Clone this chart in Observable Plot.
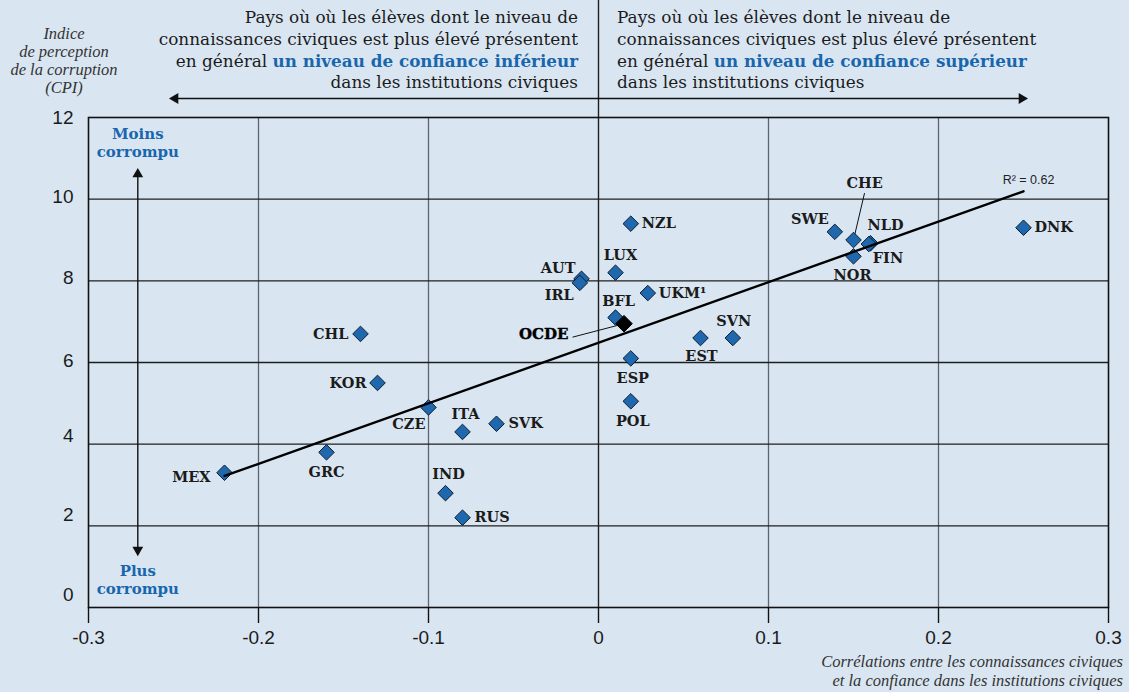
<!DOCTYPE html>
<html>
<head>
<meta charset="utf-8">
<script src="https://cdn.jsdelivr.net/npm/d3@7"></script>
<script src="https://cdn.jsdelivr.net/npm/@observablehq/plot@0.6"></script>
<style>
  html, body { margin: 0; padding: 0; background: #d9e6f2; }
  #chart svg { display: block; }
</style>
</head>
<body>
<div id="chart"></div>
<script>
// ---------------- DATA ----------------
const countries = ["MEX","GRC","CHL","KOR","CZE","ITA","SVK","IND","RUS","AUT","IRL","LUX","NZL","UKM¹","BFL","ESP","POL","EST","SVN","SWE","CHE","NLD","FIN","NOR","DNK"];
const civicTrustCorr = [-0.22,-0.16,-0.14,-0.13,-0.10,-0.08,-0.06,-0.09,-0.08,-0.01,-0.011,0.01,0.019,0.029,0.01,0.019,0.019,0.06,0.079,0.139,0.15,0.16,0.159,0.15,0.25];
const cpiValues = [3.3,3.8,6.7,5.5,4.9,4.3,4.5,2.8,2.2,8.05,7.95,8.2,9.4,7.7,7.1,6.1,5.05,6.6,6.6,9.2,9.0,8.92,8.9,8.6,9.3];
const oecdName = "OCDE";
const oecdCorr = 0.015;
const oecdCpi = 6.95;
const xTicks = [-0.3,-0.2,-0.1,0,0.1,0.2,0.3];
const yTicks = [0,2,4,6,8,10,12];
const r2Label = "R² = 0.62";

const data = countries.map((c, i) => ({name: c, x: civicTrustCorr[i], y: cpiValues[i]}));
const oecd = [{name: oecdName, x: oecdCorr, y: oecdCpi}];

// ---------------- STYLE / LABEL PLACEMENT ----------------
const blue = "#1a66ad";
const bg = "#d9e6f2";
const serif = "'DejaVu Serif', 'Liberation Serif', serif";
const serifIt = "'Liberation Serif', serif";
const sans = "'Liberation Sans', Arial, sans-serif";
const W = 1129, H = 692, mL = 88, mR = 21, mT = 117, mB = 85;
const yCanvasTop = 12 * (H - mB) / (H - mB - mT);
const yTickNudge = {0: -13, 2: -11, 4: -8, 6: -2, 8: -3, 10: -2, 12: 0};

const labelPos = {
  "MEX": {a: "end", dx: -14, dy: 5},
  "GRC": {a: "middle", dx: 0, dy: 20},
  "CHL": {a: "end", dx: -12, dy: 0},
  "KOR": {a: "end", dx: -11, dy: 0},
  "CZE": {a: "end", dx: -3, dy: 17},
  "ITA": {a: "middle", dx: 3, dy: -18},
  "SVK": {a: "start", dx: 12, dy: 0},
  "IND": {a: "middle", dx: 3, dy: -19},
  "RUS": {a: "start", dx: 12, dy: 0},
  "AUT": {a: "end", dx: -6, dy: -10},
  "IRL": {a: "end", dx: -6, dy: 12},
  "LUX": {a: "middle", dx: 5, dy: -17},
  "NZL": {a: "start", dx: 11, dy: 0},
  "UKM¹": {a: "start", dx: 11, dy: 0},
  "BFL": {a: "middle", dx: 3, dy: -16},
  "ESP": {a: "middle", dx: 2, dy: 20},
  "POL": {a: "middle", dx: 2, dy: 20},
  "EST": {a: "middle", dx: 1, dy: 18},
  "SVN": {a: "middle", dx: 1, dy: -17},
  "SWE": {a: "end", dx: -6, dy: -12},
  "NLD": {a: "start", dx: -3, dy: -18},
  "FIN": {a: "start", dx: 4, dy: 14},
  "NOR": {a: "middle", dx: -1, dy: 19},
  "DNK": {a: "start", dx: 11, dy: 0}
};
const cheLeader = {x2: 0.1565, y2: 10.15};
const oecdLeader = {x2: -0.0153, y2: 6.62};

const mx = d3.mean(civicTrustCorr), my = d3.mean(cpiValues);
const slope = d3.sum(civicTrustCorr, (x, i) => (x - mx) * (cpiValues[i] - my)) / d3.sum(civicTrustCorr, x => (x - mx) ** 2);
const intercept = my - slope * mx;
const xMax = d3.max(civicTrustCorr);

const fmt = d => { const v = +d.toFixed(1); return v === 0 ? "0" : String(v); };

const labelFont = {fontFamily: serif, fontWeight: "bold", fontSize: 14.5, fill: "#1b1b1b"};
const labelMarks = data.filter(d => labelPos[d.name]).map(d => {
  const p = labelPos[d.name];
  return Plot.text([d], {x: "x", y: "y", text: "name", textAnchor: p.a, dx: p.dx, dy: p.dy, ...labelFont});
});
const yAxisMarks = yTicks.map(t => Plot.axisY({ticks: [t], tickSize: 0, tickPadding: 15, dy: yTickNudge[t] || 0,
  tickFormat: d => String(d), fontSize: 19, fontFamily: sans, label: null}));
const blueFont = {fontSize: 15, fontWeight: "bold", fontFamily: serif, fill: blue};

const chart = Plot.plot({
  width: W, height: H,
  marginLeft: mL, marginRight: mR, marginTop: mT, marginBottom: mB,
  style: {background: bg, color: "#1b1b1b", fontFamily: sans, overflow: "visible"},
  x: {domain: [-0.3, 0.3], label: null},
  y: {domain: [0, 12], label: null},
  marks: [
    Plot.ruleX(xTicks.filter(t => t !== 0 && Math.abs(t) < 0.3), {stroke: "#5c6570", strokeWidth: 1.3}),
    Plot.ruleY(yTicks.filter(t => t > 0 && t < 12), {stroke: "#1e1e1e", strokeWidth: 1.3}),
    Plot.ruleX([0], {y1: 0, y2: yCanvasTop, stroke: "#1e1e1e", strokeWidth: 1.4}),
    Plot.frame({stroke: "#111", strokeWidth: 1.6}),
    Plot.axisX({ticks: xTicks, tickSize: 16, tickPadding: 7, tickFormat: fmt, fontSize: 19, fontFamily: sans, label: null, stroke: "#111", strokeWidth: 1.4}),
    ...yAxisMarks,
    // horizontal double arrow
    Plot.ruleY([12], {x1: -0.249, x2: 0.249, dy: -19, stroke: "#111", strokeWidth: 1.4}),
    Plot.dot([{x: -0.249, y: 12}], {x: "x", y: "y", dy: -19, symbol: "triangle", rotate: -90, r: 4, fill: "#111", stroke: null}),
    Plot.dot([{x: 0.249, y: 12}], {x: "x", y: "y", dy: -19, symbol: "triangle", rotate: 90, r: 4, fill: "#111", stroke: null}),
    // vertical double arrow
    Plot.ruleX([-0.271], {y1: 1.41, y2: 10.61, stroke: "#111", strokeWidth: 1.4}),
    Plot.dot([{x: -0.271, y: 10.61}], {x: "x", y: "y", symbol: "triangle", rotate: 0, r: 4, fill: "#111", stroke: null}),
    Plot.dot([{x: -0.271, y: 1.41}], {x: "x", y: "y", symbol: "triangle", rotate: 180, r: 4, fill: "#111", stroke: null}),
    Plot.text(["Moins"], {x: -0.271, y: 12, dy: 17, ...blueFont}),
    Plot.text(["corrompu"], {x: -0.271, y: 12, dy: 35, ...blueFont}),
    Plot.text(["Plus"], {x: -0.271, y: 0, dy: -36, ...blueFont}),
    Plot.text(["corrompu"], {x: -0.271, y: 0, dy: -18, ...blueFont}),
    // leader lines
    Plot.link(data.filter(d => d.name === "CHE"), {x1: "x", y1: "y", x2: cheLeader.x2, y2: cheLeader.y2, stroke: "#111", strokeWidth: 1}),
    Plot.link(oecd, {x1: "x", y1: "y", x2: oecdLeader.x2, y2: oecdLeader.y2, stroke: "#111", strokeWidth: 1}),
    // points
    Plot.dot(data, {x: "x", y: "y", symbol: "diamond2", r: 7, fill: "#1f68ae", stroke: "#0b1e30", strokeWidth: 1}),
    Plot.linearRegressionY(data, {x: "x", y: "y", ci: 0, stroke: "#000", strokeWidth: 2.4}),
    Plot.dot(oecd, {x: "x", y: "y", symbol: "diamond2", r: 7.5, fill: "#000", stroke: "#000", strokeWidth: 1}),
    // labels
    ...labelMarks,
    Plot.text([{x: cheLeader.x2, y: cheLeader.y2, name: "CHE"}], {x: "x", y: "y", text: "name", dy: -10, ...labelFont}),
    Plot.text([{x: oecdLeader.x2, y: oecdLeader.y2, name: oecdName}], {x: "x", y: "y", text: "name", textAnchor: "end", dx: -4, dy: -3, fontFamily: serif, fontWeight: "bold", fontSize: 15, fill: "#000", stroke: "#000", strokeWidth: 0.4}),
    Plot.text([{x: xMax, y: intercept + slope * xMax}], {x: "x", y: "y", text: () => r2Label, dx: 5, dy: -11, fontFamily: sans, fontSize: 12.5, fill: "#222"})
  ]
});

document.getElementById("chart").appendChild(chart);

// ---------------- ANNOTATIONS (SVG text) ----------------
const svg = d3.select(chart);
const X = chart.scale("x"), Y = chart.scale("y");
const x0 = X.apply(0);
const yTop = Y.apply(12);

function block(lines, x, anchor, baselines) {
  lines.forEach((ln, i) => {
    const t = svg.append("text")
      .attr("x", x).attr("y", baselines[i])
      .attr("text-anchor", anchor)
      .attr("font-family", serif).attr("font-size", 16.9).attr("fill", "#1b1b1b");
    if (Array.isArray(ln)) {
      t.append("tspan").text(ln[0]);
      t.append("tspan").attr("font-weight", "bold").attr("font-size", 16.8).attr("fill", blue).text(ln[1]);
    } else t.text(ln);
  });
}
const bl = [yTop - 94, yTop - 72, yTop - 50, yTop - 29];
block(["Pays où où les élèves dont le niveau de",
       "connaissances civiques est plus élevé présentent",
       ["en général ", "un niveau de confiance inférieur"],
       "dans les institutions civiques"], x0 - 20, "end", bl);
block(["Pays où où les élèves dont le niveau de",
       "connaissances civiques est plus élevé présentent",
       ["en général ", "un niveau de confiance supérieur"],
       "dans les institutions civiques"], x0 + 19, "start", bl);

["Indice", "de perception", "de la corruption", "(CPI)"].forEach((ln, i) => {
  svg.append("text").attr("x", 64).attr("y", 39 + 18 * i)
    .attr("text-anchor", "middle").attr("font-family", serifIt).attr("font-style", "italic")
    .attr("font-size", 16.5).attr("fill", "#333").text(ln);
});
["Corrélations entre les connaissances civiques", "et la confiance dans les institutions civiques"].forEach((ln, i) => {
  svg.append("text").attr("x", 1123).attr("y", 667 + 19 * i)
    .attr("text-anchor", "end").attr("font-family", serifIt).attr("font-style", "italic")
    .attr("font-size", 16.5).attr("fill", "#333").text(ln);
});
</script>
</body>
</html>
